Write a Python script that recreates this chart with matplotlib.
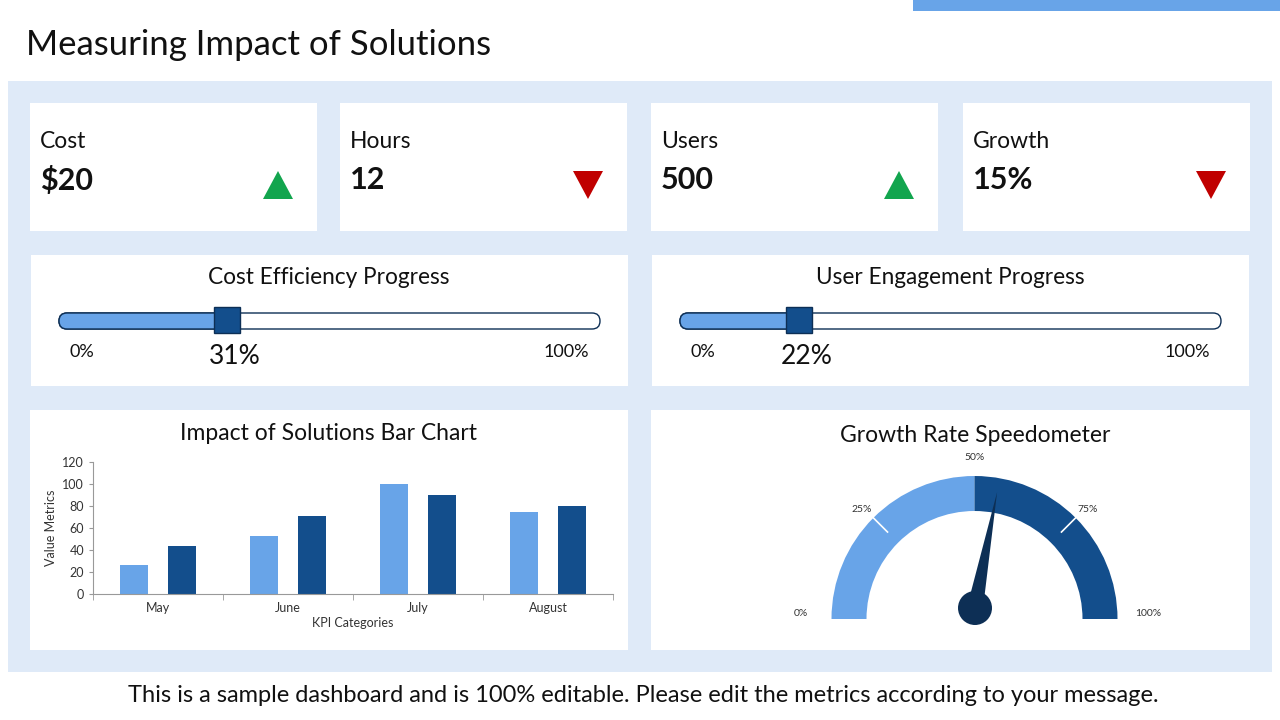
"""Dashboard: Measuring Impact of Solutions -> out.png"""
import numpy as np
import matplotlib
matplotlib.use('Agg')
import matplotlib.pyplot as plt
from matplotlib.patches import Rectangle, FancyBboxPatch, Wedge, Polygon, Circle

# data
kpi_labels = ['Cost', 'Hours', 'Users', 'Growth']
kpi_values = ['$20', '12', '500', '15%']
kpi_trend = ['up', 'down', 'up', 'down']

progress_titles = ['Cost Efficiency Progress', 'User Engagement Progress']
progress_values = [31, 22]

months = ['May', 'June', 'July', 'August']
series_a = [26, 53, 100, 75]
series_b = [44, 71, 90, 80]
y_ticks = [0, 20, 40, 60, 80, 100, 120]

gauge_value = 56
gauge_ticks = [0, 25, 50, 75, 100]

LIGHT = '#68a4e8'
DARK = '#134e8c'
NAVY = '#0d2f55'
PANEL = '#dfeaf8'
FONT = 'Lato'

plt.rcParams['font.family'] = [FONT, 'DejaVu Sans']

fig = plt.figure(figsize=(12.8, 7.2), dpi=100)
ax = fig.add_axes([0, 0, 1, 1])
ax.set_xlim(0, 1280)
ax.set_ylim(720, 0)
ax.axis('off')

# header strip + title
ax.add_patch(Rectangle((913, 0), 367, 11, color=LIGHT, lw=0))
ax.text(26, 45, 'Measuring Impact of Solutions', fontsize=25, va='center', color='#111111')

# background panel
ax.add_patch(Rectangle((8, 81), 1264, 591, color=PANEL, lw=0))

# KPI cards
card_x = [30, 340, 651, 963]
for x0, lab, val, tr in zip(card_x, kpi_labels, kpi_values, kpi_trend):
    ax.add_patch(Rectangle((x0, 103), 287, 128, color='white', lw=0))
    ax.text(x0 + 10, 141, lab, fontsize=16.5, va='center', color='#111111')
    ax.text(x0 + 10, 180, val, fontsize=22, va='center', fontweight='bold', color='#111111')
    cx = x0 + 248
    if tr == 'up':
        pts = [(cx - 15, 199), (cx + 15, 199), (cx, 171)]
        col = '#12a54e'
    else:
        pts = [(cx - 15, 171), (cx + 15, 171), (cx, 199)]
        col = '#c00000'
    ax.add_patch(Polygon(pts, closed=True, color=col, lw=0))

# progress cards
prog_x = [31, 652]
for x0, title, val in zip(prog_x, progress_titles, progress_values):
    ax.add_patch(Rectangle((x0, 255), 597, 131, color='white', lw=0))
    ax.text(x0 + 298, 277, title, fontsize=16.3, ha='center', va='center', color='#111111')
    t0, t1 = x0 + 28, x0 + 569
    tw = t1 - t0
    hx = t0 + tw * val / 100
    ax.add_patch(FancyBboxPatch((t0, 313), tw, 16, boxstyle='round,pad=0,rounding_size=8',
                                fc='white', ec=NAVY, lw=1))
    ax.add_patch(FancyBboxPatch((t0, 313), hx - t0, 16, boxstyle='round,pad=0,rounding_size=8',
                                fc=LIGHT, ec=NAVY, lw=1))
    ax.add_patch(Rectangle((hx - 13, 307), 26, 26, fc=DARK, ec=NAVY, lw=1))
    ax.text(t0 + 23, 352, '0%', fontsize=13, ha='center', va='center', color='#111111')
    ax.text(t1 - 34, 352, '100%', fontsize=13, ha='center', va='center', color='#111111')
    ax.text(hx + 8, 357, f'{val}%', fontsize=19, ha='center', va='center', color='#111111')

# bar chart card
ax.add_patch(Rectangle((30, 410), 598, 240, color='white', lw=0))
ax.text(329, 433, 'Impact of Solutions Bar Chart', fontsize=16.5, ha='center', va='center',
        color='#111111')
bx = fig.add_axes([93 / 1280, (720 - 594) / 720, 520 / 1280, 132 / 720])
pos = np.arange(len(months))
bx.bar(pos - 0.185, series_a, width=0.215, color=LIGHT)
bx.bar(pos + 0.185, series_b, width=0.215, color=DARK)
bx.set_xlim(-0.5, len(months) - 0.5)
bx.set_ylim(0, 120)
bx.set_yticks(y_ticks)
bx.set_xticks(pos)
bx.set_xticklabels(months)
bx.set_xticks(np.arange(len(months) + 1) - 0.5, minor=True)
bx.tick_params(axis='x', which='major', length=0, labelsize=9, pad=6, colors='#333333')
bx.tick_params(axis='x', which='minor', length=4, color='#999999')
bx.tick_params(axis='y', length=3, labelsize=9, colors='#333333', color='#999999')
for s in ['top', 'right']:
    bx.spines[s].set_visible(False)
for s in ['left', 'bottom']:
    bx.spines[s].set_color('#999999')
bx.set_facecolor('none')
bx.set_ylabel('Value Metrics', fontsize=9, color='#333333', labelpad=4)
bx.set_xlabel('KPI Categories', fontsize=9, color='#333333', labelpad=2)

# speedometer card
ax.add_patch(Rectangle((651, 410), 599, 240, color='white', lw=0))
ax.text(975, 435, 'Growth Rate Speedometer', fontsize=16.5, ha='center', va='center',
        color='#111111')
gcx, gcy = 974.5, 619
r_out, r_in = 143, 108
ax.add_patch(Wedge((gcx, gcy), r_out, 180, 270, width=r_out - r_in, color=LIGHT, lw=0))
ax.add_patch(Wedge((gcx, gcy), r_out, 270, 360, width=r_out - r_in, color=DARK, lw=0))
label_r = {0: 174, 25: 160, 50: 162, 75: 160, 100: 174}
label_dy = {0: -5, 25: 4, 50: 0, 75: 4, 100: -5}
for t in gauge_ticks:
    ang = np.deg2rad(180 + 180 * t / 100)
    if t in (25, 75):
        ax.plot([gcx + (r_out - 20) * np.cos(ang), gcx + r_out * np.cos(ang)],
                [gcy + (r_out - 20) * np.sin(ang), gcy + r_out * np.sin(ang)],
                color='white', lw=1.2)
    lx = gcx + label_r[t] * np.cos(ang)
    ly = gcy + label_r[t] * np.sin(ang) + label_dy[t]
    ax.text(lx, ly, f'{t}%', fontsize=7.5, ha='center', va='center', color='#333333')

hcx, hcy = 975, 608
ang = np.deg2rad(180 + 180 * gauge_value / 100)
perp = ang + np.pi / 2
tip = (hcx + 118 * np.cos(ang), hcy + 118 * np.sin(ang))
base1 = (hcx + 8 * np.cos(perp), hcy + 8 * np.sin(perp))
base2 = (hcx - 8 * np.cos(perp), hcy - 8 * np.sin(perp))
ax.add_patch(Polygon([base1, tip, base2], closed=True, color=NAVY, lw=0))
ax.add_patch(Circle((hcx, hcy), 17, color=NAVY, lw=0))

# footer
ax.text(643, 695, 'This is a sample dashboard and is 100% editable. Please edit the metrics '
        'according to your message.', fontsize=17, ha='center', va='center', color='#111111')

fig.savefig('out.png', dpi=100)
